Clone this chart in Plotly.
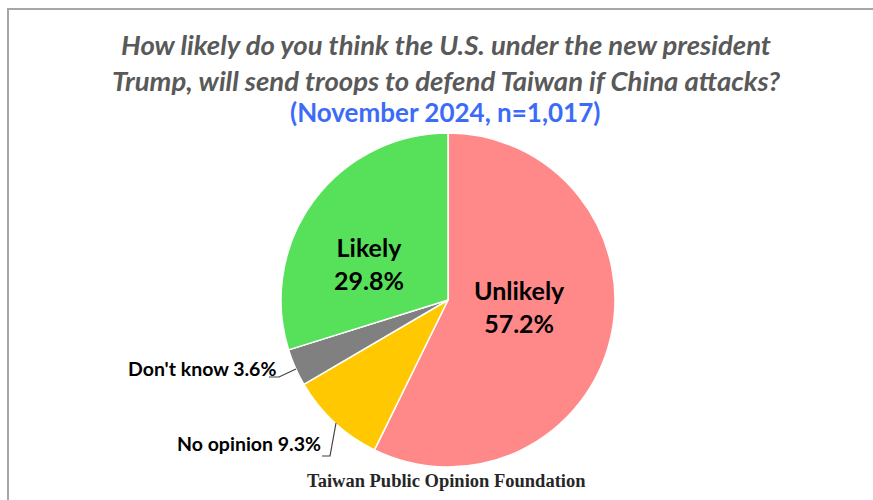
import plotly.graph_objects as go

# Survey results (November 2024, n=1,017)
labels = ["Unlikely", "No opinion", "Don't know", "Likely"]
values = [57.2, 9.3, 3.6, 29.8]
colors = ["#FF8888", "#FFC800", "#808080", "#57E05A"]

W, H = 873, 500
cx, cy, r = 448, 300, 167  # pie centre / radius in pixels

fig = go.Figure(go.Pie(
    labels=labels,
    values=values,
    sort=False,
    direction="clockwise",
    rotation=0,
    marker=dict(colors=colors, line=dict(color="white", width=1.5)),
    textinfo="none",
    hoverinfo="label+percent",
    showlegend=False,
    domain=dict(x=[(cx - r) / W, (cx + r) / W], y=[(H - cy - r) / H, (H - cy + r) / H]),
))

def px(x):
    return x / W

def py(y):
    return 1 - y / H

label_font = dict(family="Lato", size=25, color="#000000")
small_font = dict(family="Lato", size=19.5, color="#000000")

annotations = [
    dict(x=px(446), y=py(62), text="<b><i>How likely do you think the U.S. under the new president<br>Trump, will send troops to defend Taiwan if China attacks?</i></b>",
         font=dict(family="Lato", size=27.5, color="#595959"), showarrow=False, xanchor="center", yanchor="middle"),
    dict(x=px(445), y=py(112), text="<b>(November 2024, n=1,017)</b>",
         font=dict(family="Lato", size=26, color="#3C6CF7"), showarrow=False, xanchor="center", yanchor="middle"),
    dict(x=px(369), y=py(263), text=f"<b>{labels[3]}<br>{values[3]:.1f}%</b>",
         font=label_font, showarrow=False, xanchor="center", yanchor="middle"),
    dict(x=px(519), y=py(306), text=f"<b>{labels[0]}<br>{values[0]:.1f}%</b>",
         font=label_font, showarrow=False, xanchor="center", yanchor="middle"),
    dict(x=px(278), y=py(368), text=f"<b>{labels[2]} {values[2]:.1f}%</b>",
         font=small_font, showarrow=False, xanchor="right", yanchor="middle"),
    dict(x=px(323), y=py(443), text=f"<b>{labels[1]} {values[1]:.1f}%</b>",
         font=small_font, showarrow=False, xanchor="right", yanchor="middle"),
    dict(x=px(447), y=py(481), text="<b>Taiwan Public Opinion Foundation</b>",
         font=dict(family="Liberation Serif", size=18.5, color="#262626"), showarrow=False, xanchor="center", yanchor="middle"),
]

leader = dict(color="#404040", width=1.2)
shapes = [
    # outer frame
    dict(type="rect", xref="paper", yref="paper", x0=px(8), x1=px(880), y0=py(510), y1=py(9),
         line=dict(color="#A6A6A6", width=2)),
    # leader line for Don't know
    dict(type="path", xref="paper", yref="paper",
         path=f"M {px(296)},{py(369)} L {px(279)},{py(377)} L {px(269)},{py(377)}", line=leader),
    # leader line for No opinion
    dict(type="path", xref="paper", yref="paper",
         path=f"M {px(336)},{py(423)} L {px(330)},{py(456)} L {px(322)},{py(456)}", line=leader),
]

fig.update_layout(
    width=W, height=H,
    margin=dict(l=0, r=0, t=0, b=0),
    paper_bgcolor="white",
    plot_bgcolor="white",
    annotations=annotations,
    shapes=shapes,
)

fig.write_html("out.html")
